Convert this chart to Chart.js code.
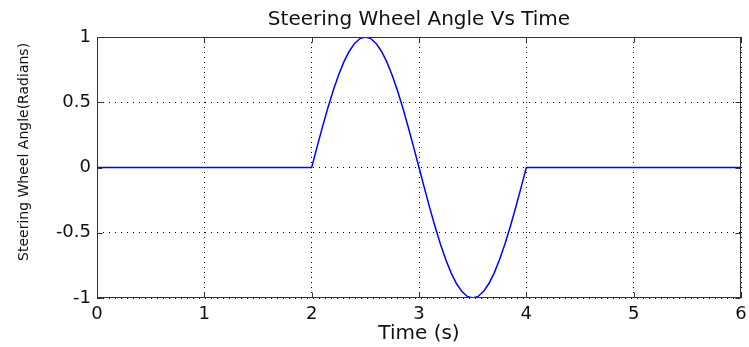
<!DOCTYPE html>
<html>
<head>
<meta charset="utf-8">
<script src="https://cdn.jsdelivr.net/npm/chart.js@4.4.0/dist/chart.umd.min.js"></script>
<style>
  html, body { margin: 0; padding: 0; background: #fff; }
  #wrap { width: 749px; height: 347px; }
</style>
</head>
<body>
<div id="wrap"><canvas id="c" width="749" height="347"></canvas></div>
<script>
// ---- data ----
const chartTitle = 'Steering Wheel Angle Vs Time';
const xAxisTitle = 'Time (s)';
const yAxisTitle = 'Steering Wheel Angle(Radians)';

const timeS = [0, 1, 2,
  2.05, 2.1, 2.15, 2.2, 2.25, 2.3, 2.35, 2.4, 2.45, 2.5,
  2.55, 2.6, 2.65, 2.7, 2.75, 2.8, 2.85, 2.9, 2.95, 3,
  3.05, 3.1, 3.15, 3.2, 3.25, 3.3, 3.35, 3.4, 3.45, 3.5,
  3.55, 3.6, 3.65, 3.7, 3.75, 3.8, 3.85, 3.9, 3.95, 4,
  5, 6];
const angleRad = [0, 0, 0,
  0.156, 0.309, 0.454, 0.588, 0.707, 0.809, 0.891, 0.951, 0.988, 1,
  0.988, 0.951, 0.891, 0.809, 0.707, 0.588, 0.454, 0.309, 0.156, 0,
  -0.156, -0.309, -0.454, -0.588, -0.707, -0.809, -0.891, -0.951, -0.988, -1,
  -0.988, -0.951, -0.891, -0.809, -0.707, -0.588, -0.454, -0.309, -0.156, 0,
  0, 0];

const xTicks = [0, 1, 2, 3, 4, 5, 6];
const yTicks = [-1, -0.5, 0, 0.5, 1];
const yTickLabels = ['-1', '-0.5', '0', '0.5', '1'];

const points = timeS.map((t, i) => ({ x: t, y: angleRad[i] }));

const FONT = 'DejaVu Sans';
Chart.defaults.font.family = FONT;
Chart.defaults.color = '#000';

const framePlugin = {
  id: 'frame',
  afterDatasetsDraw(chart) {
    const { ctx, chartArea: { left, top, right, bottom }, scales: { x, y } } = chart;
    ctx.save();
    ctx.setLineDash([]);
    ctx.strokeStyle = '#333';
    ctx.lineWidth = 1;
    const L = Math.round(left) + 0.5, R = Math.round(right) - 0.5;
    const T = Math.round(top) + 0.5, B = Math.round(bottom) - 0.5;
    const tl = 5;
    ctx.beginPath();
    xTicks.forEach(v => {
      const px = Math.round(x.getPixelForValue(v)) + 0.5;
      ctx.moveTo(px, B); ctx.lineTo(px, B - tl);
      ctx.moveTo(px, T); ctx.lineTo(px, T + tl);
    });
    yTicks.forEach(v => {
      const py = Math.round(y.getPixelForValue(v)) + 0.5;
      ctx.moveTo(L, py); ctx.lineTo(L + tl, py);
      ctx.moveTo(R, py); ctx.lineTo(R - tl, py);
    });
    ctx.stroke();
    ctx.strokeRect(L, T, R - L, B - T);
    ctx.restore();
  }
};

new Chart(document.getElementById('c'), {
  type: 'scatter',
  data: {
    datasets: [{
      data: points,
      showLine: true,
      borderColor: '#0000ff',
      borderWidth: 1.5,
      pointRadius: 0,
      fill: false,
      tension: 0
    }]
  },
  options: {
    responsive: false,
    animation: false,
    devicePixelRatio: 1,
    layout: { padding: { left: 0, right: 8, top: 0, bottom: 0 } },
    plugins: {
      legend: { display: false },
      tooltip: { enabled: false },
      title: {
        display: true,
        fullSize: false,
        text: chartTitle,
        color: '#111',
        font: { family: FONT, size: 20, weight: 'normal' },
        padding: { top: 8, bottom: 5 }
      }
    },
    scales: {
      x: {
        type: 'linear',
        min: 0, max: 6,
        afterBuildTicks: s => { s.ticks = xTicks.map(v => ({ value: v })); },
        afterFit: s => { s.height = 49; s.paddingLeft = 0; s.paddingRight = 0; },
        ticks: {
          color: '#111',
          font: { size: 18 },
          padding: 6,
          maxRotation: 0,
          callback: v => String(v)
        },
        grid: { color: '#000', lineWidth: 1, drawTicks: false },
        border: { display: false, dash: [1, 4] },
        title: {
          display: true,
          text: xAxisTitle,
          color: '#111',
          font: { size: 20 },
          padding: { top: 0, bottom: 1 }
        }
      },
      y: {
        type: 'linear',
        min: -1, max: 1,
        afterBuildTicks: s => { s.ticks = yTicks.map(v => ({ value: v })); },
        afterFit: s => { s.width = 97; },
        ticks: {
          color: '#111',
          font: { size: 18 },
          padding: 6,
          callback: v => yTickLabels[yTicks.indexOf(v)]
        },
        grid: { color: '#000', lineWidth: 1, drawTicks: false },
        border: { display: false, dash: [1, 5] },
        title: {
          display: true,
          text: '       ' + yAxisTitle,
          color: '#111',
          font: { size: 14 },
          padding: { top: 16, bottom: 0 }
        }
      }
    }
  },
  plugins: [framePlugin]
});
</script>
</body>
</html>
